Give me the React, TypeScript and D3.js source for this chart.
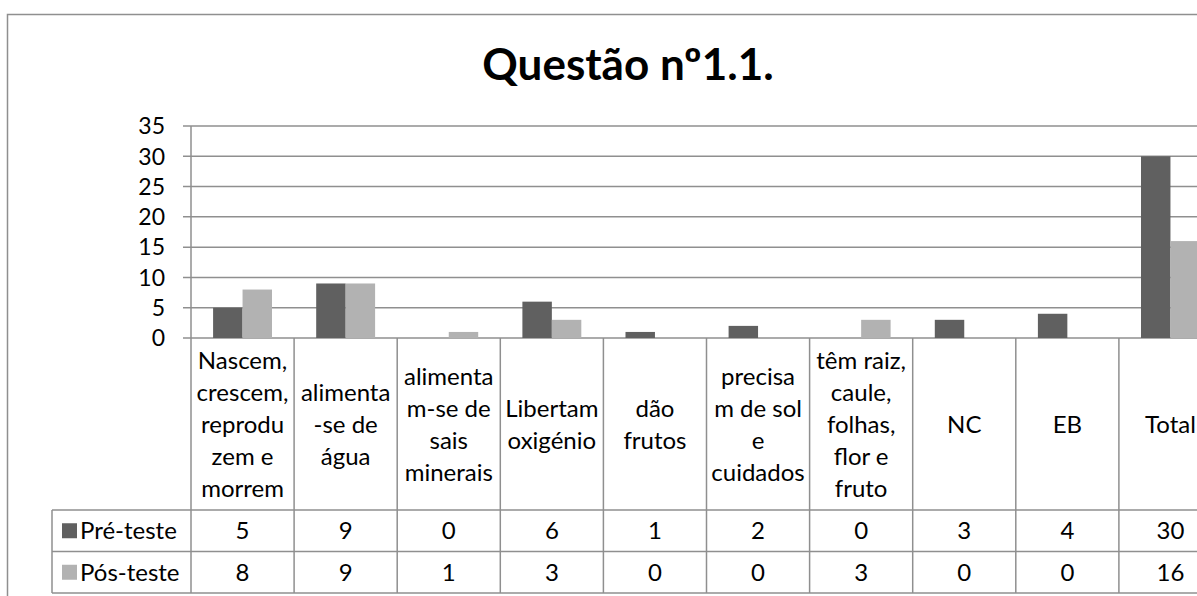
import React from 'react';
import * as d3 from 'd3';

const title = "Questão nº1.1.";
const categoryLines = [
  ["Nascem,", "crescem,", "reprodu", "zem e", "morrem"],
  ["alimenta", "-se de", "água"],
  ["alimenta", "m-se de", "sais", "minerais"],
  ["Libertam", "oxigénio"],
  ["dão", "frutos"],
  ["precisa", "m de sol", "e", "cuidados"],
  ["têm raiz,", "caule,", "folhas,", "flor e", "fruto"],
  ["NC"],
  ["EB"],
  ["Total"],
];
const categories = categoryLines.map(l => l.join(" "));
const seriesNames = ["Pré-teste", "Pós-teste"];
const preTeste = [5, 9, 0, 6, 1, 2, 0, 3, 4, 30];
const posTeste = [8, 9, 1, 3, 0, 0, 3, 0, 0, 16];
const seriesValues = [preTeste, posTeste];
const seriesColors = ["#606060", "#b2b2b2"];
const yTicks = [0, 5, 10, 15, 20, 25, 30, 35];

const W = 1197;
const H = 596;
const plotLeft = 191;
const plotRight = 1222; // chart runs past the window edge
const plotTop = 126;
const plotBottom = 338;
const headerBottom = 510;
const rowH = 41.5;
const legendLeft = 52;
const font = "Lato, 'Open Sans', sans-serif";
const gridColor = "#8f8f8f";
const axisFs = 23;
const fs = 24;

const App: React.FC = () => {
  const x = d3.scaleBand<string>().domain(categories).range([plotLeft, plotRight]).paddingInner(0).paddingOuter(0);
  const y = d3.scaleLinear().domain([0, 35]).range([plotBottom, plotTop]);

  // Excel-like gap width of 150%
  const groupW = x.bandwidth() * 2 / 3.5;
  const barW = groupW / 2;
  const off = (x.bandwidth() - groupW) / 2;

  const tableBottom = headerBottom + rowH * 2;
  const headerMid = (plotBottom + headerBottom) / 2;

  return (
    <svg width={W} height={H} style={{ position: "absolute", left: 0, top: 0 }} fontFamily={font}>
      <rect x={0} y={0} width={W} height={H} fill="#fff" />
      {/* outer chart frame, runs off the right and bottom */}
      <rect x={7.5} y={14.5} width={1400} height={800} fill="none" stroke={gridColor} strokeWidth={1.5} />

      <text x={628} y={80} textAnchor="middle" fontSize={44} fontWeight="bold" fill="#000">{title}</text>

      {/* gridlines + tick labels */}
      {yTicks.map(t => (
        <g key={t}>
          <line x1={183} x2={plotRight} y1={y(t)} y2={y(t)} stroke={gridColor} strokeWidth={1.5} />
          <text x={165} y={y(t)} dy="0.36em" textAnchor="end" fontSize={axisFs} fill="#000">{t}</text>
        </g>
      ))}
      <line x1={plotLeft} x2={plotLeft} y1={plotTop} y2={tableBottom} stroke={gridColor} strokeWidth={1.5} />

      {/* bars */}
      {categories.map((c, i) => (
        <g key={c} transform={`translate(${x(c)},0)`}>
          {seriesValues.map((vals, s) => (
            <rect key={s}
              x={off + s * barW}
              y={y(vals[i])}
              width={barW}
              height={y(0) - y(vals[i])}
              fill={seriesColors[s]} />
          ))}
        </g>
      ))}

      {/* data table */}
      {categories.map(c => (
        <line key={"v" + c} x1={(x(c) as number) + x.bandwidth()} x2={(x(c) as number) + x.bandwidth()}
          y1={plotBottom} y2={tableBottom} stroke={gridColor} strokeWidth={1.5} />
      ))}
      {[0, 1, 2].map(r => (
        <line key={"r" + r} x1={legendLeft} x2={plotRight} y1={headerBottom + rowH * r} y2={headerBottom + rowH * r}
          stroke={gridColor} strokeWidth={1.5} />
      ))}
      <line x1={legendLeft} x2={legendLeft} y1={headerBottom} y2={tableBottom} stroke={gridColor} strokeWidth={1.5} />

      {categoryLines.map((lines, i) => (
        <text key={"h" + i} textAnchor="middle" fontSize={fs} fill="#000">
          {lines.map((ln, j) => (
            <tspan key={j} x={(x(categories[i]) as number) + x.bandwidth() / 2}
              y={headerMid + (j - (lines.length - 1) / 2) * 32 + 8.5}>{ln}</tspan>
          ))}
        </text>
      ))}

      {seriesNames.map((name, s) => {
        const cy = headerBottom + rowH * s + rowH / 2;
        return (
          <g key={name}>
            <rect x={62} y={cy - 7.5} width={15} height={15} fill={seriesColors[s]} />
            <text x={80} y={cy + 8.5} fontSize={fs} fill="#000">{name}</text>
            {seriesValues[s].map((v, i) => (
              <text key={i} x={(x(categories[i]) as number) + x.bandwidth() / 2} y={cy + 8.5}
                textAnchor="middle" fontSize={fs} fill="#000">{v}</text>
            ))}
          </g>
        );
      })}
    </svg>
  );
};

export default App;
